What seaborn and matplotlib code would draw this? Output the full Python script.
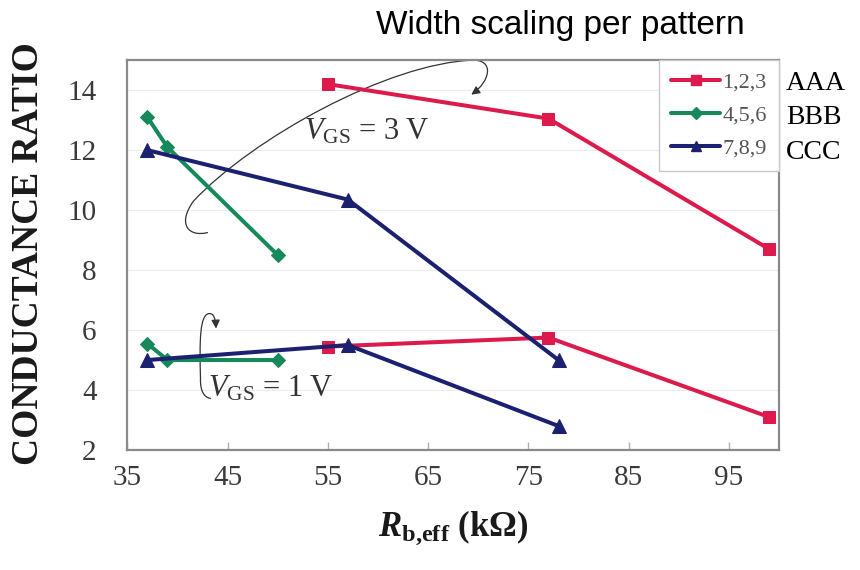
import matplotlib
matplotlib.use("Agg")
import matplotlib.pyplot as plt
from matplotlib.path import Path
from matplotlib.patches import FancyArrowPatch
import seaborn as sns
import pandas as pd

# Effective body resistance (kOhm) and conductance ratio per pattern group
r_123 = [55, 77, 99]
g_123_vgs3 = [14.2, 13.05, 8.7]
g_123_vgs1 = [5.45, 5.75, 3.1]

r_456 = [37, 39, 50]
g_456_vgs3 = [13.1, 12.1, 8.5]
g_456_vgs1 = [5.55, 5.0, 5.0]

r_789 = [37, 57, 78]
g_789_vgs3 = [12.0, 10.35, 5.0]
g_789_vgs1 = [5.0, 5.5, 2.8]

patterns = ["1,2,3", "4,5,6", "7,8,9"]
side_labels = ["AAA", "BBB", "CCC"]
x_ticks = [35, 45, 55, 65, 75, 85, 95]
y_ticks = [2, 4, 6, 8, 10, 12, 14]

rows = []
for name, r, g3, g1 in [
    ("1,2,3", r_123, g_123_vgs3, g_123_vgs1),
    ("4,5,6", r_456, g_456_vgs3, g_456_vgs1),
    ("7,8,9", r_789, g_789_vgs3, g_789_vgs1),
]:
    for xv, yv in zip(r, g3):
        rows.append({"R": xv, "ratio": yv, "pattern": name, "vgs": "3 V"})
    for xv, yv in zip(r, g1):
        rows.append({"R": xv, "ratio": yv, "pattern": name, "vgs": "1 V"})
df = pd.DataFrame(rows)

sns.set_theme(style="white")
plt.rcParams["font.family"] = ["Liberation Serif", "DejaVu Serif"]
plt.rcParams["mathtext.fontset"] = "custom"
plt.rcParams["mathtext.rm"] = "Liberation Serif"
plt.rcParams["mathtext.it"] = "Liberation Serif:italic"
plt.rcParams["mathtext.bf"] = "Liberation Serif:bold"
plt.rcParams["mathtext.bfit"] = "Liberation Serif:bold:italic"

palette = {"1,2,3": "#DC1B4C", "4,5,6": "#16895A", "7,8,9": "#1B2170"}
markers = {"1,2,3": "s", "4,5,6": "D", "7,8,9": "^"}
msizes = {"1,2,3": 9, "4,5,6": 7.5, "7,8,9": 9.5}

fig = plt.figure(figsize=(8.6, 5.7), dpi=100)
ax = fig.add_axes([0.148, 0.2105, 0.758, 0.684])

for name in patterns:
    sub = df[df["pattern"] == name]
    sns.lineplot(
        data=sub, x="R", y="ratio", units="vgs", estimator=None, sort=False,
        color=palette[name], marker=markers[name], markersize=msizes[name],
        markeredgecolor=palette[name], linewidth=2.9, ax=ax, label=None,
        legend=False,
    )

ax.set_xlim(35, 100)
ax.set_ylim(2, 15)
ax.set_xticks(x_ticks)
ax.set_yticks(y_ticks)
ax.set_xlabel("")
ax.set_ylabel("")
ax.yaxis.grid(True, color="#ececec", linewidth=0.8)
ax.xaxis.grid(False)
for s in ax.spines.values():
    s.set_color("#8a8a8a")
    s.set_linewidth(1.6)
ax.tick_params(axis="x", direction="in", length=6, width=1, color="#b0b0b0",
               labelsize=21, labelcolor="#3a3a3a", pad=11, bottom=True)
ax.tick_params(axis="y", direction="in", length=0, labelsize=21,
               labelcolor="#3a3a3a", pad=22, left=True)

# Legend with the pattern groups
handles = [
    plt.Line2D([], [], color=palette[n], marker=markers[n], markersize=msizes[n] * 0.75,
               linewidth=2.9) for n in patterns
]
leg = ax.legend(handles, patterns, loc="upper right", frameon=True, fancybox=False,
                framealpha=1, edgecolor="#c8c8c8", fontsize=16, handlelength=2.2,
                handletextpad=0.1, borderaxespad=0.0, labelspacing=0.55,
                borderpad=0.55)
for t in leg.get_texts():
    t.set_color("#555555")
leg.get_frame().set_linewidth(1.0)

# Curved callouts for the two gate voltages
upper = Path(
    [(43.0, 9.25), (41.2, 9.1), (39.9, 9.5), (41.6, 10.3),
     (47.5, 12.4), (61.0, 14.9), (69.5, 15.0),
     (71.6, 15.0), (71.2, 14.3), (69.3, 13.85)],
    [Path.MOVETO, Path.CURVE4, Path.CURVE4, Path.CURVE4,
     Path.CURVE4, Path.CURVE4, Path.CURVE4,
     Path.CURVE4, Path.CURVE4, Path.CURVE4],
)
ax.add_patch(FancyArrowPatch(path=upper, arrowstyle="-|>,head_length=5,head_width=2.5",
                             color="#333333", linewidth=0.9, clip_on=False))
lower = Path(
    [(43.3, 3.72), (42.7, 3.75), (42.25, 3.95), (42.3, 4.4),
     (42.2, 5.6), (42.2, 6.55), (43.2, 6.55),
     (43.6, 6.55), (43.8, 6.4), (43.85, 6.05)],
    [Path.MOVETO, Path.CURVE4, Path.CURVE4, Path.CURVE4,
     Path.CURVE4, Path.CURVE4, Path.CURVE4,
     Path.CURVE4, Path.CURVE4, Path.CURVE4],
)
ax.add_patch(FancyArrowPatch(path=lower, arrowstyle="-|>,head_length=5,head_width=2.5",
                             color="#333333", linewidth=0.9, clip_on=False))

ax.text(52.6, 12.6, r"$V_{\mathrm{GS}}$ = 3 V", fontsize=22, color="#333333",
        ha="left", va="center")
ax.text(43.0, 4.05, r"$V_{\mathrm{GS}}$ = 1 V", fontsize=22, color="#333333",
        ha="left", va="center")

# Axis titles
fig.text(0.033, 0.556, "CONDUCTANCE RATIO", rotation=90, fontsize=27,
         fontweight="bold", ha="center", va="center", color="#1a1a1a")
fig.text(0.527, 0.074, r"$\mathbfit{R}_{\mathbf{b{,}eff}}$ (k$\mathbf{\Omega}$)",
         fontsize=25, fontweight="bold", ha="center", va="center", color="#1a1a1a")

# Title
fig.text(0.652, 0.955, "Width scaling per pattern", fontsize=24,
         family=["Liberation Sans", "DejaVu Sans"], ha="center", va="center",
         color="black")

# Series names beside the legend
for lbl, yfig in zip(side_labels, [0.854, 0.793, 0.732]):
    fig.text(0.914, yfig, lbl, fontsize=20, ha="left", va="center", color="black")

fig.savefig("out.png", dpi=100, facecolor="white")
